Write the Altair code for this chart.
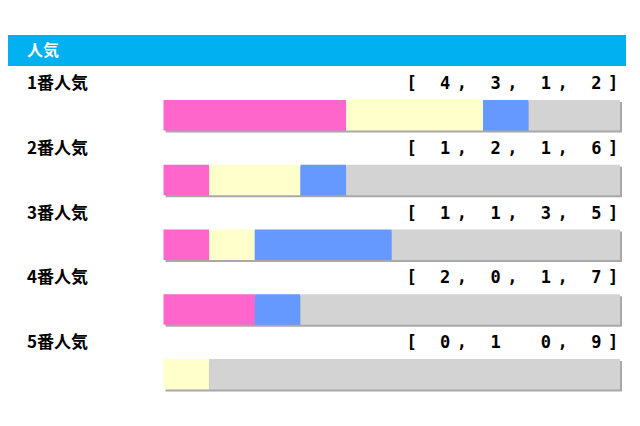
import altair as alt
import pandas as pd

title = "人気"
categories = ["1番人気", "2番人気", "3番人気", "4番人気", "5番人気"]
first = [4, 1, 1, 2, 0]
second = [3, 2, 1, 0, 1]
third = [1, 1, 3, 1, 0]
other = [2, 6, 5, 7, 9]
bracket_labels = ["[ 4, 3, 1, 2]", "[ 1, 2, 1, 6]", "[ 1, 1, 3, 5]", "[ 2, 0, 1, 7]", "[ 0, 1  0, 9]"]

segment_names = ["1着", "2着", "3着", "着外"]
segment_colors = ["#FF66CC", "#FFFFCC", "#6699FF", "#D3D3D3"]

# long table for stacked bars
rows = []
for i, cat in enumerate(categories):
    start = 0
    for name, v in zip(segment_names, [first[i], second[i], third[i], other[i]]):
        rows.append({"row": i, "cat": cat, "seg": name, "start": start, "end": start + v})
        start += v
bars_df = pd.DataFrame(rows)
totals_df = pd.DataFrame({"row": list(range(len(categories))),
                          "total": [a + b + c + d for a, b, c, d in zip(first, second, third, other)]})
labels_df = pd.DataFrame({"row": list(range(len(categories))), "cat": categories})
chars = []
for i, s in enumerate(bracket_labels):
    for k, ch in enumerate(s):
        if ch != " ":
            chars.append({"row": i, "idx": k, "ch": ch})
chars_df = pd.DataFrame(chars)

W, H = 624, 410
ROW0, STEP = 76, 64.75
yscale = alt.Scale(domain=[0, 5], range=[ROW0, ROW0 + 5 * STEP])
xbar = alt.Scale(domain=[0, 10], range=[155.5, 612])
xchar = alt.Scale(domain=[0, 12], range=[403.5, 605.1])

header = alt.Chart(labels_df.head(1)).mark_rect(color="#00B0F0").encode(
    x=alt.value(0), x2=alt.value(618), y=alt.value(27), y2=alt.value(58))
header_text = alt.Chart(labels_df.head(1)).mark_text(
    align="left", baseline="middle", font="Noto Sans CJK JP", fontWeight="bold",
    fontSize=16, color="white").encode(x=alt.value(19), y=alt.value(42.5), text=alt.value(title))

shadow = alt.Chart(totals_df).mark_rect(color="#A8A8A8", xOffset=2, x2Offset=2, yOffset=2, y2Offset=2).transform_calculate(
    y0="datum.row + 0.247", y1="datum.row + 0.718", z="0").encode(
    x=alt.X("z:Q", scale=xbar, axis=None),
    x2="total:Q",
    y=alt.Y("y0:Q", scale=yscale, axis=None),
    y2="y1:Q")

bars = alt.Chart(bars_df).mark_rect().transform_calculate(
    y0="datum.row + 0.247", y1="datum.row + 0.718").encode(
    x=alt.X("start:Q", scale=xbar, axis=None),
    x2="end:Q",
    y=alt.Y("y0:Q", scale=yscale, axis=None),
    y2="y1:Q",
    color=alt.Color("seg:N", scale=alt.Scale(domain=segment_names, range=segment_colors), legend=None))

labels = alt.Chart(labels_df).mark_text(
    align="left", baseline="middle", font="Noto Sans CJK JP", fontWeight="bold",
    fontSize=17, color="#000000").encode(
    x=alt.value(19), y=alt.Y("row:Q", scale=yscale, axis=None), text="cat:N")

chars_layer = alt.Chart(chars_df).mark_text(
    align="center", baseline="middle", font="DejaVu Sans Mono", fontWeight="bold",
    fontSize=17, color="#000000").encode(
    x=alt.X("idx:Q", scale=xchar, axis=None),
    y=alt.Y("row:Q", scale=yscale, axis=None), text="ch:N")

chart = alt.layer(header, header_text, shadow, bars, labels, chars_layer).resolve_scale(
    x="independent").properties(
    width=W, height=H, autosize=alt.AutoSizeParams(type="none"), padding=0,
    background="white").configure_view(stroke=None)

chart.save("out.html", embed_options={"renderer": "svg", "actions": False})
